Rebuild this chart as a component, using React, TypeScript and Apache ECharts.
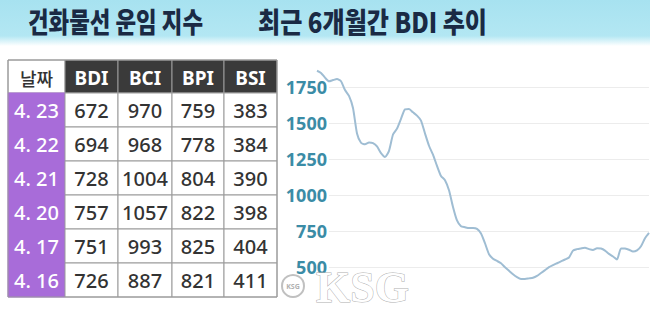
import React, { useEffect, useRef } from "react";
import * as echarts from "echarts";

// ---- Data ----
const titleLeft = "건화물선 운임 지수";
const titleRight = "최근 6개월간 BDI 추이";

const tableHeaders = ["날짜", "BDI", "BCI", "BPI", "BSI"];
const tableDates = ["4. 23", "4. 22", "4. 21", "4. 20", "4. 17", "4. 16"];
const bdiValues = [672, 694, 728, 757, 751, 726];
const bciValues = [970, 968, 1004, 1057, 993, 887];
const bpiValues = [759, 778, 804, 822, 825, 821];
const bsiValues = [383, 384, 390, 398, 404, 411];

// BDI trend over the last 6 months
const bdiTrend = [
  1863, 1848, 1815, 1790, 1798, 1805, 1790, 1729, 1688, 1604,
  1427, 1363, 1353, 1365, 1360, 1337, 1291, 1264, 1307, 1420,
  1461, 1529, 1595, 1597, 1574, 1551, 1517, 1427, 1342, 1280,
  1202, 1132, 1103, 1033, 917, 823, 783, 776, 770, 771,
  765, 733, 665, 589, 558, 542, 526, 498, 474, 449,
  429, 417, 417, 421, 425, 438, 458, 478, 499, 513,
  526, 539, 552, 566, 614, 624, 629, 633, 624, 618,
  631, 628, 614, 591, 573, 552, 629, 628, 620, 607,
  615, 644, 700, 737,
];
const trendCategories = bdiTrend.map((_, i) => String(i));
const gridValues = [500, 750, 1000, 1250, 1500, 1750];
const watermarkText = "KSG";

export default function App() {
  const ref = useRef<HTMLDivElement>(null);

  useEffect(() => {
    if (!ref.current) return;
    const chart = echarts.init(ref.current, null, { renderer: "svg" });

    const colEdges = [8, 65, 118, 172, 224, 277];
    const headerTop = 60;
    const headerH = 33;
    const rowH = 34;
    const border = "#9a9a9a";
    const cols = [bdiValues, bciValues, bpiValues, bsiValues];

    const tableEls: any[] = [];
    tableHeaders.forEach((h, c) => {
      const x = colEdges[c];
      const w = colEdges[c + 1] - colEdges[c];
      tableEls.push({
        type: "rect",
        shape: { x, y: headerTop, width: w, height: headerH },
        style: { fill: c === 0 ? "#ffffff" : "#3a3a3a", stroke: border, lineWidth: 1 },
      });
      tableEls.push({
        type: "text",
        style: {
          text: h,
          x: x + w / 2,
          y: headerTop + headerH / 2 + 1,
          align: "center",
          verticalAlign: "middle",
          fill: c === 0 ? "#333333" : "#ffffff",
          font: c === 0
            ? "500 18px 'Noto Sans CJK KR', 'Noto Sans', sans-serif"
            : "bold 19px 'Noto Sans', sans-serif",
        },
      });
    });
    tableDates.forEach((d, r) => {
      const y = headerTop + headerH + r * rowH;
      const cells = [d, ...cols.map((arr) => String(arr[r]))];
      cells.forEach((txt, c) => {
        const x = colEdges[c];
        const w = colEdges[c + 1] - colEdges[c];
        tableEls.push({
          type: "rect",
          shape: { x, y, width: w, height: rowH },
          style: { fill: c === 0 ? "#a86cd9" : "#ffffff", stroke: c === 0 ? "#a86cd9" : border, lineWidth: 1 },
        });
        tableEls.push({
          type: "text",
          style: {
            text: txt,
            x: x + w / 2,
            y: y + rowH / 2,
            align: "center",
            verticalAlign: "middle",
            fill: c === 0 ? "#ffffff" : "#333333",
            font: "500 20px 'Noto Sans', sans-serif",
          },
        });
      });
    });
    tableEls.push({
      type: "rect",
      shape: { x: colEdges[0], y: headerTop, width: colEdges[5] - colEdges[0], height: headerH + rowH * tableDates.length },
      style: { fill: "none", stroke: border, lineWidth: 1 },
    });

    const option: any = {
      animation: false,
      backgroundColor: "#ffffff",
      grid: { left: 317, right: 1, top: 51, height: 252, containLabel: false },
      xAxis: {
        type: "category",
        data: trendCategories,
        boundaryGap: false,
        show: false,
      },
      yAxis: {
        type: "value",
        min: 250,
        max: 2000,
        interval: 250,
        axisLine: { show: false },
        axisTick: { show: false },
        splitLine: { show: false },
        axisLabel: {
          showMinLabel: false,
          showMaxLabel: false,
          margin: -10,
          color: "#3b8ca6",
          fontSize: 18,
          fontWeight: "bold",
          fontFamily: "'Noto Sans', sans-serif",
          padding: [7, 0, 0, 0],
          formatter: (v: number) => String(v),
        },
      },
      series: [
        {
          type: "line",
          data: bdiTrend,
          showSymbol: false,
          smooth: 0.2,
          lineStyle: { color: "#9fbdd3", width: 2 },
          z: 3,
          markLine: {
            silent: true,
            symbol: "none",
            label: { show: false },
            lineStyle: { color: "#ececec", width: 1, type: "solid" },
            z: 1,
            data: gridValues.map((v) => [
              { coord: [trendCategories[3], v] },
              { coord: [trendCategories[trendCategories.length - 1], v] },
            ]),
          },
        },
      ],
      graphic: [
        {
          type: "rect",
          z: 50,
          shape: { x: 0, y: 0, width: 650, height: 46 },
          style: {
            fill: new echarts.graphic.LinearGradient(0, 0, 0, 1, [
              { offset: 0, color: "#a7e2f0" },
              { offset: 0.78, color: "#b3e7f3" },
              { offset: 1, color: "#ffffff" },
            ]),
          },
        },
        {
          type: "text",
          z: 51,
          x: 28,
          y: 21,
          scaleX: 0.8,
          style: {
            text: titleLeft,
            x: 0,
            y: 0,
            verticalAlign: "middle",
            fill: "#1a2a44",
            font: "900 28px 'Noto Sans CJK KR', sans-serif",
          },
        },
        {
          type: "text",
          z: 51,
          x: 258,
          y: 21,
          scaleX: 0.86,
          style: {
            text: titleRight,
            x: 0,
            y: 0,
            verticalAlign: "middle",
            fill: "#1a2a44",
            font: "900 28px 'Noto Sans CJK KR', sans-serif",
          },
        },
        {
          type: "group",
          z: 40,
          children: tableEls,
        },
        {
          type: "circle",
          z: 60,
          shape: { cx: 293, cy: 286, r: 11 },
          style: { fill: "rgba(255,255,255,0.85)", stroke: "#c0c0c0", lineWidth: 2 },
        },
        {
          type: "text",
          z: 61,
          style: {
            text: watermarkText,
            x: 293,
            y: 286,
            align: "center",
            verticalAlign: "middle",
            fill: "#b0b0b0",
            font: "bold 7px 'Noto Sans', sans-serif",
          },
        },
        {
          type: "text",
          z: 60,
          style: {
            text: watermarkText,
            x: 316,
            y: 265,
            verticalAlign: "top",
            fill: "#ffffff",
            stroke: "#b0b0b0",
            lineWidth: 1,
            shadowColor: "rgba(0,0,0,0.45)",
            shadowBlur: 3,
            shadowOffsetX: 1,
            shadowOffsetY: 1,
            font: "bold 44px 'Liberation Serif', serif",
          },
        },
      ],
    };

    chart.setOption(option);
    return () => chart.dispose();
  }, []);

  return (
    <div
      ref={ref}
      style={{ position: "fixed", left: 0, top: 0, width: 650, height: 310, background: "#fff" }}
    />
  );
}
